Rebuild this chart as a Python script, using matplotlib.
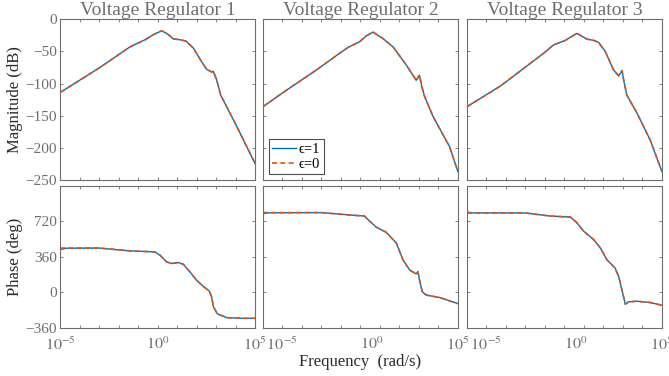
import numpy as np
import matplotlib
matplotlib.use('Agg')
import matplotlib.pyplot as plt
from matplotlib.ticker import FixedLocator, FixedFormatter, NullFormatter

plt.rcParams['font.family'] = ['Liberation Serif', 'DejaVu Serif']
plt.rcParams['mathtext.fontset'] = 'stix'

titles = ['Voltage Regulator 1', 'Voltage Regulator 2', 'Voltage Regulator 3']
legend_labels = ['\u03f5=1', '\u03f5=0']
xtick_text = {-5: r'$10^{-5}$', 0: r'$10^{0}$', 5: r'$10^{5}$'}
# middle/right panels: first label sits a little right of the tick
xtick_text_inner = {-5: r'$\ 10^{-5}$', 0: r'$10^{0}$', 5: r'$10^{5}$'}

# log10 of frequency (rad/s) and magnitude (dB)
mag1_lw = [-5, -3, -1.41, -0.64, -0.21, 0.21, 0.47, 0.81, 1.15, 1.46, 1.84, 2.26, 2.52, 2.78, 2.86, 3.03, 3.24, 3.97, 5]
mag1_db = [-114, -76, -43, -32, -24, -18, -22, -30.5, -32, -34, -45, -66, -78, -82, -81, -94, -118, -161, -224]
mag2_lw = [-5, -3.97, -2.26, -1.07, -0.64, -0.04, 0.3, 0.64, 1.15, 1.67, 2.35, 2.86, 3.03, 3.15, 3.29, 3.72, 4.57, 5]
mag2_db = [-136, -114, -79, -53, -44, -35, -26, -20, -30, -43, -71, -95, -87, -105, -120, -151, -198, -237]
mag3_lw = [-5, -3.29, -1.07, -0.56, 0.04, 0.64, 1.15, 1.5, 1.75, 2.09, 2.52, 2.78, 2.95, 3.07, 3.2, 3.72, 4.4, 5]
mag3_db = [-136, -104, -53, -40, -33, -22, -31, -33, -36, -50, -79, -88, -80, -100, -118, -146, -188, -237]

# phase (deg)
ph1_lw = [-5, -4.7, -3, -1.41, -0.13, 0.13, 0.47, 0.73, 1.07, 1.32, 1.67, 2.01, 2.35, 2.66, 2.78, 2.86, 3.07, 3.55, 4.3, 5]
ph1_e1 = [433, 448, 450, 421, 411, 377, 309, 293, 303, 286, 207, 122, 61, 13, -48, -143, -217, -255, -262, -262]
ph1_e0 = [450, 450, 450, 421, 411, 377, 309, 293, 303, 286, 207, 122, 61, 13, -48, -143, -217, -255, -262, -262]
ph2_lw = [-5, -4.7, -2, -0.56, 0.21, 0.47, 0.81, 1.32, 1.84, 2.18, 2.52, 2.86, 2.95, 3.03, 3.17, 3.38, 4.06, 4.57, 5]
ph2_e1 = [798, 807, 809, 785, 774, 723, 662, 610, 501, 331, 228, 188, 211, 126, 7, -27, -51, -85, -113]
ph2_e0 = [809, 809, 809, 785, 774, 723, 662, 610, 501, 331, 228, 188, 211, 126, 7, -27, -51, -85, -113]
ph3_lw = [-5, -4.7, -2, -0.73, 0.3, 0.64, 0.98, 1.5, 1.84, 2.18, 2.6, 2.78, 2.95, 3.12, 3.29, 3.72, 4.4, 5]
ph3_e1 = [815, 806, 805, 774, 764, 706, 621, 535, 450, 331, 246, 160, 24, -119, -95, -89, -102, -130]
ph3_e0 = [805, 805, 805, 774, 764, 706, 621, 535, 450, 331, 246, 160, 24, -119, -95, -89, -102, -130]

mags = [(mag1_lw, mag1_db), (mag2_lw, mag2_db), (mag3_lw, mag3_db)]
phases = [(ph1_lw, ph1_e1, ph1_e0), (ph2_lw, ph2_e1, ph2_e0), (ph3_lw, ph3_e1, ph3_e0)]

blue = (0, 0.447, 0.741)
orange = (0.85, 0.325, 0.098)
grey = '#6e6e6e'
dark = '#2a2a2a'

fig = plt.figure(figsize=(6.69, 3.76), dpi=100)
lefts = [0.0897, 0.393, 0.698]
w = 0.2915

def style(ax, ylim, yticks, show_y, xlabels):
    ax.set_xscale('log')
    ax.set_xlim(1e-5, 1e5)
    ax.set_ylim(*ylim)
    ax.xaxis.set_major_locator(FixedLocator([10.0**k for k in range(-5, 6)]))
    ax.xaxis.set_minor_locator(FixedLocator([]))
    if xlabels:
        ax.xaxis.set_major_formatter(FixedFormatter([xlabels.get(k, '') for k in range(-5, 6)]))
    else:
        ax.xaxis.set_major_formatter(NullFormatter())
    ax.set_yticks(yticks)
    if not show_y:
        ax.set_yticklabels([])
    ax.tick_params(direction='in', top=True, right=True, length=2.5, width=0.6,
                   colors=grey, labelsize=11, pad=2)
    ax.tick_params(axis='x', pad=6, labelsize=11.5)
    for s in ax.spines.values():
        s.set_color(grey)
        s.set_linewidth(0.8)

for i in range(3):
    ax = fig.add_axes([lefts[i], 0.521, w, 0.428])
    lw, db = mags[i]
    f = 10.0 ** np.array(lw)
    ax.plot(f, db, color=blue, lw=1.0, label=legend_labels[0])
    ax.plot(f, db, color=orange, lw=1.2, ls=(0, (3, 2)), label=legend_labels[1])
    style(ax, (-250, 0), [-250, -200, -150, -100, -50, 0], i == 0, None)
    ax.set_title(titles[i], fontsize=14, color=grey, pad=2)
    if i == 0:
        ax.set_ylabel('Magnitude (dB)', fontsize=12, color=dark, labelpad=2)
    if i == 1:
        leg = ax.legend(loc='lower left', fontsize=10.5, frameon=True, fancybox=False,
                        edgecolor='#222222', handlelength=1.6, handletextpad=0.2,
                        borderpad=0.25, labelspacing=0.1, borderaxespad=0.4)
        leg.get_frame().set_linewidth(0.8)

    ax = fig.add_axes([lefts[i], 0.1277, w, 0.378])
    lw, e1, e0 = phases[i]
    f = 10.0 ** np.array(lw)
    ax.plot(f, e1, color=blue, lw=1.0)
    ax.plot(f, e0, color=orange, lw=1.2, ls=(0, (3, 2)))
    style(ax, (-360, 1080), [-360, 0, 360, 720], i == 0,
          xtick_text if i == 0 else xtick_text_inner)
    if i > 0:
        ticks = ax.xaxis.get_major_ticks()
        ticks[0].label1.set_horizontalalignment('left')
        ticks[5].label1.set_horizontalalignment('left')
    if i == 0:
        ax.set_ylabel('Phase (deg)', fontsize=12, color=dark, labelpad=2)
    if i == 1:
        ax.set_xlabel('Frequency  (rad/s)', fontsize=12, color=dark, labelpad=0)

fig.savefig('out.png', dpi=100)
